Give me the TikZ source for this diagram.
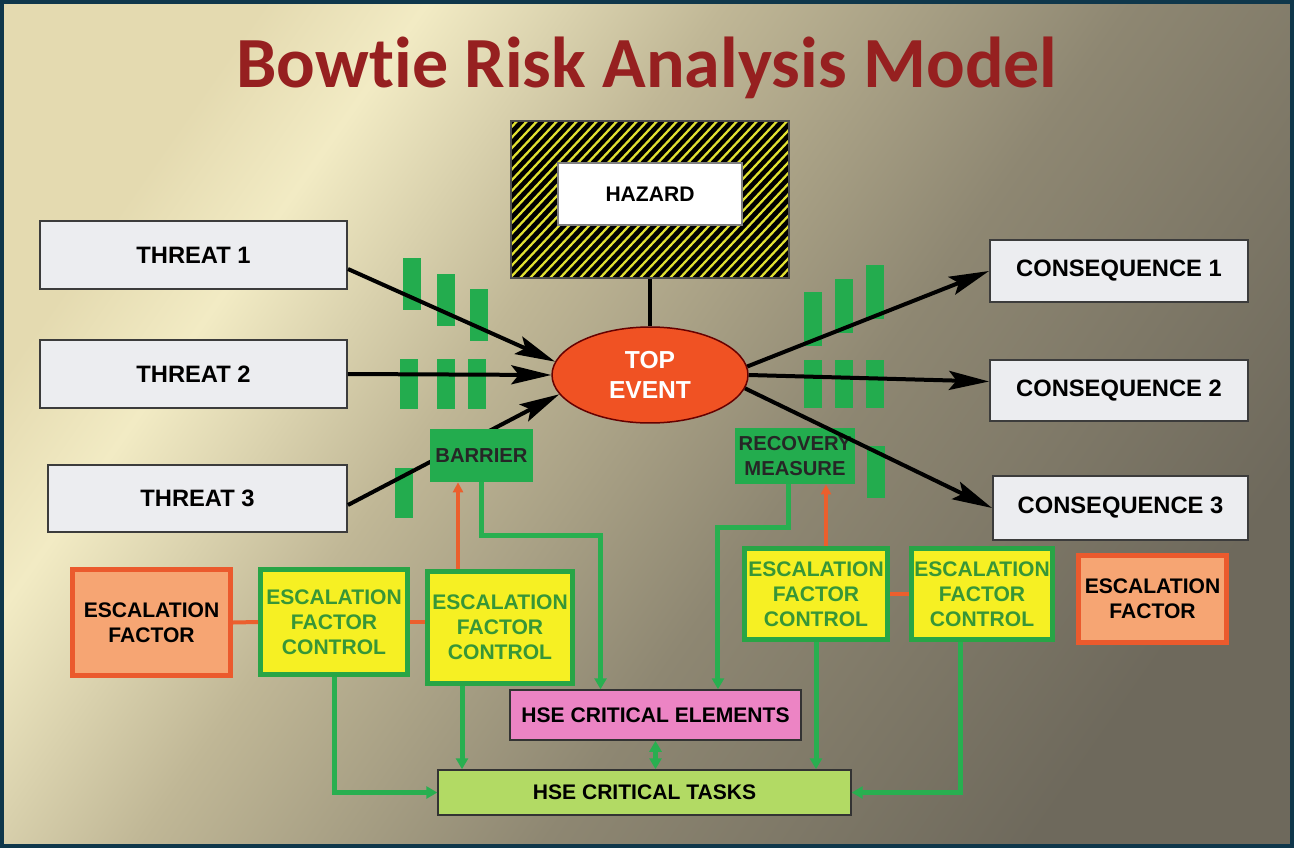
\documentclass[tikz,border=0pt]{standalone}
\usepackage{fontspec}
\setmainfont{Liberation Sans}
\newfontfamily\titlefont[Ligatures=NoCommon]{Carlito}
\usepackage{tikz}
\usetikzlibrary{shapes.geometric,arrows.meta}

\definecolor{bgA}{RGB}{228,218,176}
\definecolor{bgB}{RGB}{242,235,196}
\definecolor{bgC}{RGB}{192,183,150}
\definecolor{bgD}{RGB}{142,135,114}
\definecolor{bgE}{RGB}{110,105,92}
\definecolor{framecol}{RGB}{15,55,75}
\definecolor{titlered}{RGB}{150,32,32}
\definecolor{boxfill}{RGB}{236,237,240}
\definecolor{boxline}{RGB}{60,60,60}
\definecolor{barfill}{RGB}{35,172,78}
\definecolor{efcfill}{RGB}{246,240,35}
\definecolor{efcline}{RGB}{40,165,70}
\definecolor{efctext}{RGB}{55,150,55}
\definecolor{effill}{RGB}{246,165,115}
\definecolor{efline}{RGB}{235,90,45}
\definecolor{topfill}{RGB}{240,82,35}
\definecolor{elemfill}{RGB}{236,132,196}
\definecolor{taskfill}{RGB}{178,218,100}
\definecolor{stripecol}{RGB}{225,225,50}
\definecolor{linegreen}{RGB}{40,175,80}
\definecolor{lineorange}{RGB}{235,95,45}

\pgfdeclarehorizontalshading{bowbg}{100bp}{color(0bp)=(bgA); color(25bp)=(bgA); color(31bp)=(bgB); color(42bp)=(bgC); color(57bp)=(bgD); color(75bp)=(bgE); color(100bp)=(bgE)}

\begin{document}
\begin{tikzpicture}[x=0.02cm,y=-0.02cm]
    \tikzstyle{threat}=[rectangle,draw=boxline,line width=0.04cm,fill=boxfill,inner sep=0pt,font=\bfseries\fontsize{13.5}{16}\selectfont]
    \tikzstyle{bar}=[rectangle,fill=barfill,inner sep=0pt,minimum width=0.36cm]
    \tikzstyle{efc}=[rectangle,draw=efcline,line width=0.1cm,fill=efcfill,text=efctext,align=center,inner sep=0pt,font=\bfseries\fontsize{12}{14.2}\selectfont]
    \tikzstyle{esc}=[rectangle,draw=efline,line width=0.1cm,fill=effill,align=center,inner sep=0pt,font=\bfseries\fontsize{12}{14.2}\selectfont]
    \tikzstyle{gbox}=[rectangle,fill=barfill,align=center,inner sep=0pt,text=black!85,font=\bfseries\fontsize{11.5}{14}\selectfont]
    \tikzstyle{hse}=[rectangle,draw=black!80,line width=0.03cm,inner sep=0pt,font=\bfseries\fontsize{12}{14}\selectfont]
    \tikzstyle{flow}=[line width=0.08cm,-{Stealth[length=0.8cm,width=0.38cm,inset=0.15cm]}]
    \tikzstyle{link}=[draw=linegreen,line width=0.1cm,-{Triangle[length=0.22cm,width=0.24cm]}]
    \tikzstyle{esclink}=[draw=lineorange,line width=0.08cm]
    \useasboundingbox (0,0) rectangle (1294,848);
    \shade[shading=bowbg,shading angle=-35] (0,0) rectangle (1294,848);
    \draw[framecol,line width=0.08cm] (2,2) rectangle (1292,846);
    \node[text=titlered,font=\titlefont\bfseries\fontsize{41}{48}\selectfont] (Title) at (647,68) {Bowtie Risk Analysis Model};

    \fill[black] (511,121) rectangle (789,278);
    \begin{scope}
      \clip (511,121) rectangle (789,278);
      \foreach \k in {350,360,...,790}
        \draw[stripecol,line width=0.045cm] (\k,278) -- ++(150,-160);
    \end{scope}
    \node[draw=black!70,line width=0.03cm,minimum width=5.56cm,minimum height=3.14cm,inner sep=0pt] (H) at (650,199.5) {};
    \node[hse,fill=white,draw=black!50,minimum width=3.68cm,minimum height=1.24cm] (HZ) at (650,194) {HAZARD};
    \node[ellipse,draw=black!60!red,fill=topfill,line width=0.03cm,minimum width=3.92cm,minimum height=1.92cm,inner sep=0pt,align=center,text=white,font=\bfseries\fontsize{14}{17}\selectfont] (E) at (650,375) {TOP\\EVENT};

    \node[threat,minimum width=6.14cm,minimum height=1.36cm] (T_1) at (193.5,255) {THREAT 1};
    \node[threat,minimum width=6.14cm,minimum height=1.36cm] (T_2) at (193.5,374) {THREAT 2};
    \node[threat,minimum width=5.98cm,minimum height=1.34cm] (T_3) at (197.5,498.5) {THREAT 3};
    \node[threat,minimum width=5.16cm,minimum height=1.24cm] (C_1) at (1119,271) {CONSEQUENCE 1};
    \node[threat,minimum width=5.16cm,minimum height=1.22cm] (C_2) at (1119,390.5) {CONSEQUENCE 2};
    \node[threat,minimum width=5.1cm,minimum height=1.28cm] (C_3) at (1120.5,508) {CONSEQUENCE 3};

    \node[bar,minimum height=1.04cm] (Bar_1) at (412,284) {};
    \node[bar,minimum height=1.04cm] (Bar_2) at (446,300) {};
    \node[bar,minimum height=1.04cm] (Bar_3) at (479,315) {};
    \node[bar,minimum height=1.0cm] (Bar_4) at (409,384) {};
    \node[bar,minimum height=1.0cm] (Bar_5) at (446,384) {};
    \node[bar,minimum height=1.0cm] (Bar_6) at (477,384) {};
    \node[bar,minimum height=1.0cm] (Bar_7) at (404,493) {};
    \node[bar,minimum height=1.08cm] (Bar_8) at (813,319) {};
    \node[bar,minimum height=1.08cm] (Bar_9) at (844,306) {};
    \node[bar,minimum height=1.08cm] (Bar_10) at (875,292) {};
    \node[bar,minimum height=0.98cm] (Bar_11) at (813,384) {};
    \node[bar,minimum height=0.98cm] (Bar_12) at (844,384) {};
    \node[bar,minimum height=0.98cm] (Bar_13) at (875,384) {};
    \node[bar,minimum height=1.04cm] (Bar_14) at (876,472) {};
    \node[gbox,minimum width=2.4cm,minimum height=1.12cm] (Recovery) at (795,456) {RECOVERY\\MEASURE};

    \draw[flow] ([yshift=-0.28cm]T_1.east) -- (E.172);
    \draw[flow] (T_2.east) -- (E.west);
    \draw[flow] ([yshift=-0.13cm]T_3.east) -- (E.192);
    \draw[flow] (E.5) -- (C_1.west);
    \draw[flow] (E.east) -- ([yshift=0.18cm]C_2.west);
    \draw[flow] (E.-8) -- (C_3.west);
    \draw[line width=0.08cm] (H.south) -- (E.north);
    \node[gbox,minimum width=2.06cm,minimum height=1.06cm] (Barrier) at (481.5,455.5) {BARRIER};

    \node[esc,minimum width=3.16cm,minimum height=2.12cm] (EF_1) at (151.5,622.5) {ESCALATION\\FACTOR};
    \node[efc,minimum width=2.94cm,minimum height=2.1cm] (EFC_1) at (334,622) {ESCALATION\\FACTOR\\CONTROL};
    \node[efc,minimum width=2.9cm,minimum height=2.24cm] (EFC_2) at (500,627.5) {ESCALATION\\FACTOR\\CONTROL};
    \node[efc,minimum width=2.86cm,minimum height=1.82cm] (EFC_3) at (816,594) {ESCALATION\\FACTOR\\CONTROL};
    \node[efc,minimum width=2.82cm,minimum height=1.82cm] (EFC_4) at (982,594) {ESCALATION\\FACTOR\\CONTROL};
    \node[esc,minimum width=2.96cm,minimum height=1.74cm] (EF_2) at (1152.5,599) {ESCALATION\\FACTOR};
    \node[hse,fill=elemfill,minimum width=5.82cm,minimum height=1.0cm] (HSE_E) at (655.5,715) {HSE CRITICAL ELEMENTS};
    \node[hse,fill=taskfill,minimum width=8.26cm,minimum height=0.9cm] (HSE_T) at (644.5,792.5) {HSE CRITICAL TASKS};

    \coordinate (o_1) at ([xshift=-0.84cm]EFC_2.north);
    \coordinate (o_2) at ([xshift=0.2cm]EFC_3.north);
    \coordinate (g_2) at ([xshift=-0.76cm]EFC_2.south);
    \coordinate (g_4) at ([xshift=-0.44cm]EFC_4.south);
    \draw[esclink] (EF_1.east) -- (EFC_1.west);
    \draw[esclink] (EFC_1.east) -- (EFC_1.east -| EFC_2.west);
    \draw[esclink] (EFC_3.east) -- (EFC_4.west);
    \draw[esclink,-{Triangle[length=0.2cm,width=0.2cm]}] (o_1) -- (o_1 |- Barrier.south);
    \draw[esclink,-{Triangle[length=0.2cm,width=0.2cm]}] (o_2) -- (o_2 |- Recovery.south);
    \draw[link] (Barrier.south) -- ++(0,53) -| ([xshift=-1.1cm]HSE_E.north);
    \draw[link] ([xshift=-0.14cm]Recovery.south) -- ++(0,43) -| ([xshift=1.25cm]HSE_E.north);
    \draw[link] (EFC_1.south) |- (HSE_T.west);
    \draw[link] (g_2) -- (g_2 |- HSE_T.north);
    \draw[link,{Triangle[length=0.22cm,width=0.24cm]}-{Triangle[length=0.22cm,width=0.24cm]}] (HSE_E.south) -- (HSE_E.south |- HSE_T.north);
    \draw[link] (EFC_3.south) -- (EFC_3.south |- HSE_T.north);
    \draw[link] (g_4) |- (HSE_T.east);
  \end{tikzpicture}
\end{document}
